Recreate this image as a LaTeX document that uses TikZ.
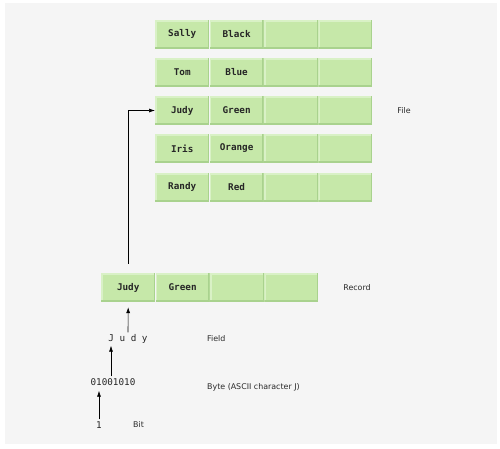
\documentclass[tikz,border=0pt]{standalone}
\usepackage{fontspec}
\setmainfont{DejaVu Sans}
\newfontfamily\cellmono{DejaVu Sans Mono}
\usetikzlibrary{arrows.meta}
\definecolor{bggray}{HTML}{F5F5F5}
\definecolor{cellgreen}{HTML}{C6E8A9}
\definecolor{celllight}{HTML}{D9F1C6}
\definecolor{celldark}{HTML}{A9D28E}
\definecolor{labelgray}{HTML}{2A2A2A}
\begin{document}
\begin{tikzpicture}[x=1pt,y=-1pt,
  cell/.style={rectangle, minimum width=54pt, minimum height=29pt, inner sep=0pt,
    fill=cellgreen, anchor=west, text=black!85,
    font=\cellmono\bfseries\fontsize{9.3pt}{11pt}\selectfont,
    path picture={
      \fill[celllight] (path picture bounding box.north west) rectangle ([yshift=-2pt]path picture bounding box.north east);
      \fill[celllight] (path picture bounding box.north west) rectangle ([xshift=1.5pt]path picture bounding box.south west);
      \fill[celldark] ([yshift=2pt]path picture bounding box.south west) rectangle (path picture bounding box.south east);
      \fill[celldark] ([xshift=-1.5pt]path picture bounding box.north east) rectangle (path picture bounding box.south east);
    }},
  lbl/.style={inner sep=1pt, text=labelgray, font=\fontsize{7.9pt}{9pt}\selectfont},
  monotext/.style={inner sep=1pt, text=black!85, font=\cellmono\fontsize{9.3pt}{11pt}\selectfont},
  arr/.style={-{Latex[length=6pt,width=4pt]}, line width=0.6pt, black}
]
\useasboundingbox (0,0) rectangle (500,448);
\fill[white] (0,0) rectangle (500,448);
\fill[bggray] (5,3) rectangle (497,444);

% File rows
\foreach \n/\a/\b/\y in {1/Sally/Black/34, 2/Tom/Blue/72, 3/Judy/Green/110.5, 4/Iris/Orange/148.5, 5/Randy/Red/187} {
  \node[cell] (f\n a) at (155,\y) {\a};
  \node[cell] (f\n b) at (f\n a.east) {\b};
  \node[cell] (f\n c) at (f\n b.east) {};
  \node[cell] (f\n d) at (f\n c.east) {};
}

% Record
\node[cell] (ra) at (101,287.5) {Judy};
\node[cell] (rb) at (ra.east) {Green};
\node[cell] (rc) at (rb.east) {};
\node[cell] (rd) at (rc.east) {};

% Field, byte, bit
\node[monotext] (field) at (128,339) {J u d y};
\node[monotext] (byte) at (113,382) {01001010};
\node[monotext] (bit) at (99,425) {1};

% Labels
\node[lbl] (lfile) at (404,110.5) {File};
\node[lbl] (lrecord) at (357,288) {Record};
\node[lbl, anchor=west] (lfield) at (206,339) {Field};
\node[lbl, anchor=west] (lbyte) at (206,387) {Byte (ASCII character J)};
\node[lbl, anchor=west] (lbit) at (132,424.5) {Bit};

% Arrows
\draw[arr] ([yshift=9pt]ra.north) |- (f3a.west);
\draw[arr] ([yshift=1pt]field.north) -- ([yshift=-5pt]ra.south);
\draw[arr] ([xshift=-2pt,yshift=1pt]byte.north) -- ([xshift=-17pt,yshift=-1pt]field.south);
\draw[arr] ([yshift=1pt]bit.north) -- ([yshift=-4pt]bit.north |- byte.south);
\end{tikzpicture}
\end{document}
